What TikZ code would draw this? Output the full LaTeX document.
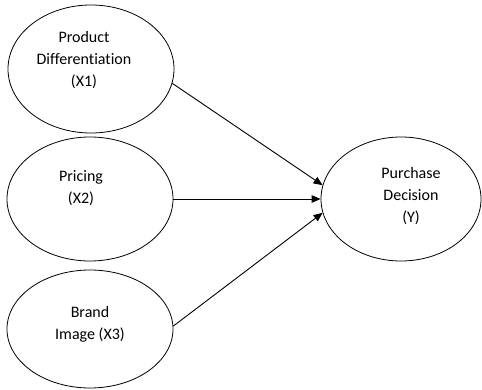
\documentclass[tikz,border=0pt]{standalone}
\usepackage{fontspec}
\setmainfont{Carlito}[Ligatures=NoCommon]
\usepackage{tikz}
\usetikzlibrary{shapes.geometric, arrows.meta, calc}

\tikzset{
  var/.style={draw, ellipse, line width=0.8pt, inner sep=0pt},
  vartext/.style={align=center, font=\fontsize{16}{22}\selectfont},
  path/.style={line width=0.9pt, -{Triangle[length=9pt,width=7.5pt]}}
}

\begin{document}
\begin{tikzpicture}[x=1pt, y=-1pt]
\useasboundingbox (0,0) rectangle (482,390);

% Independent variables
\node[var, minimum width=166pt, minimum height=128pt] (x1) at (91,69) {};
\node[var, minimum width=166pt, minimum height=124pt] (x2) at (90,199) {};
\node[var, minimum width=166pt, minimum height=118pt] (x3) at (90,329) {};
\node[vartext] (x1t) at (84,60) {Product\\Differentiation\\(X1)};
\node[vartext] (x2t) at (81,188) {Pricing\\(X2)};
\node[vartext] (x3t) at (90,324) {Brand\\Image (X3)};

% Dependent variable
\node[var, minimum width=160pt, minimum height=124pt] (y) at (401,199) {};
\node[vartext] (yt) at (411,196) {Purchase\\Decision\\(Y)};

% Paths
\draw[path] (x1.-10) -- (y.170);
\draw[path] (x2.east) -- (y.west);
\draw[path] (x3.2) -- (y.190);
\end{tikzpicture}
\end{document}
